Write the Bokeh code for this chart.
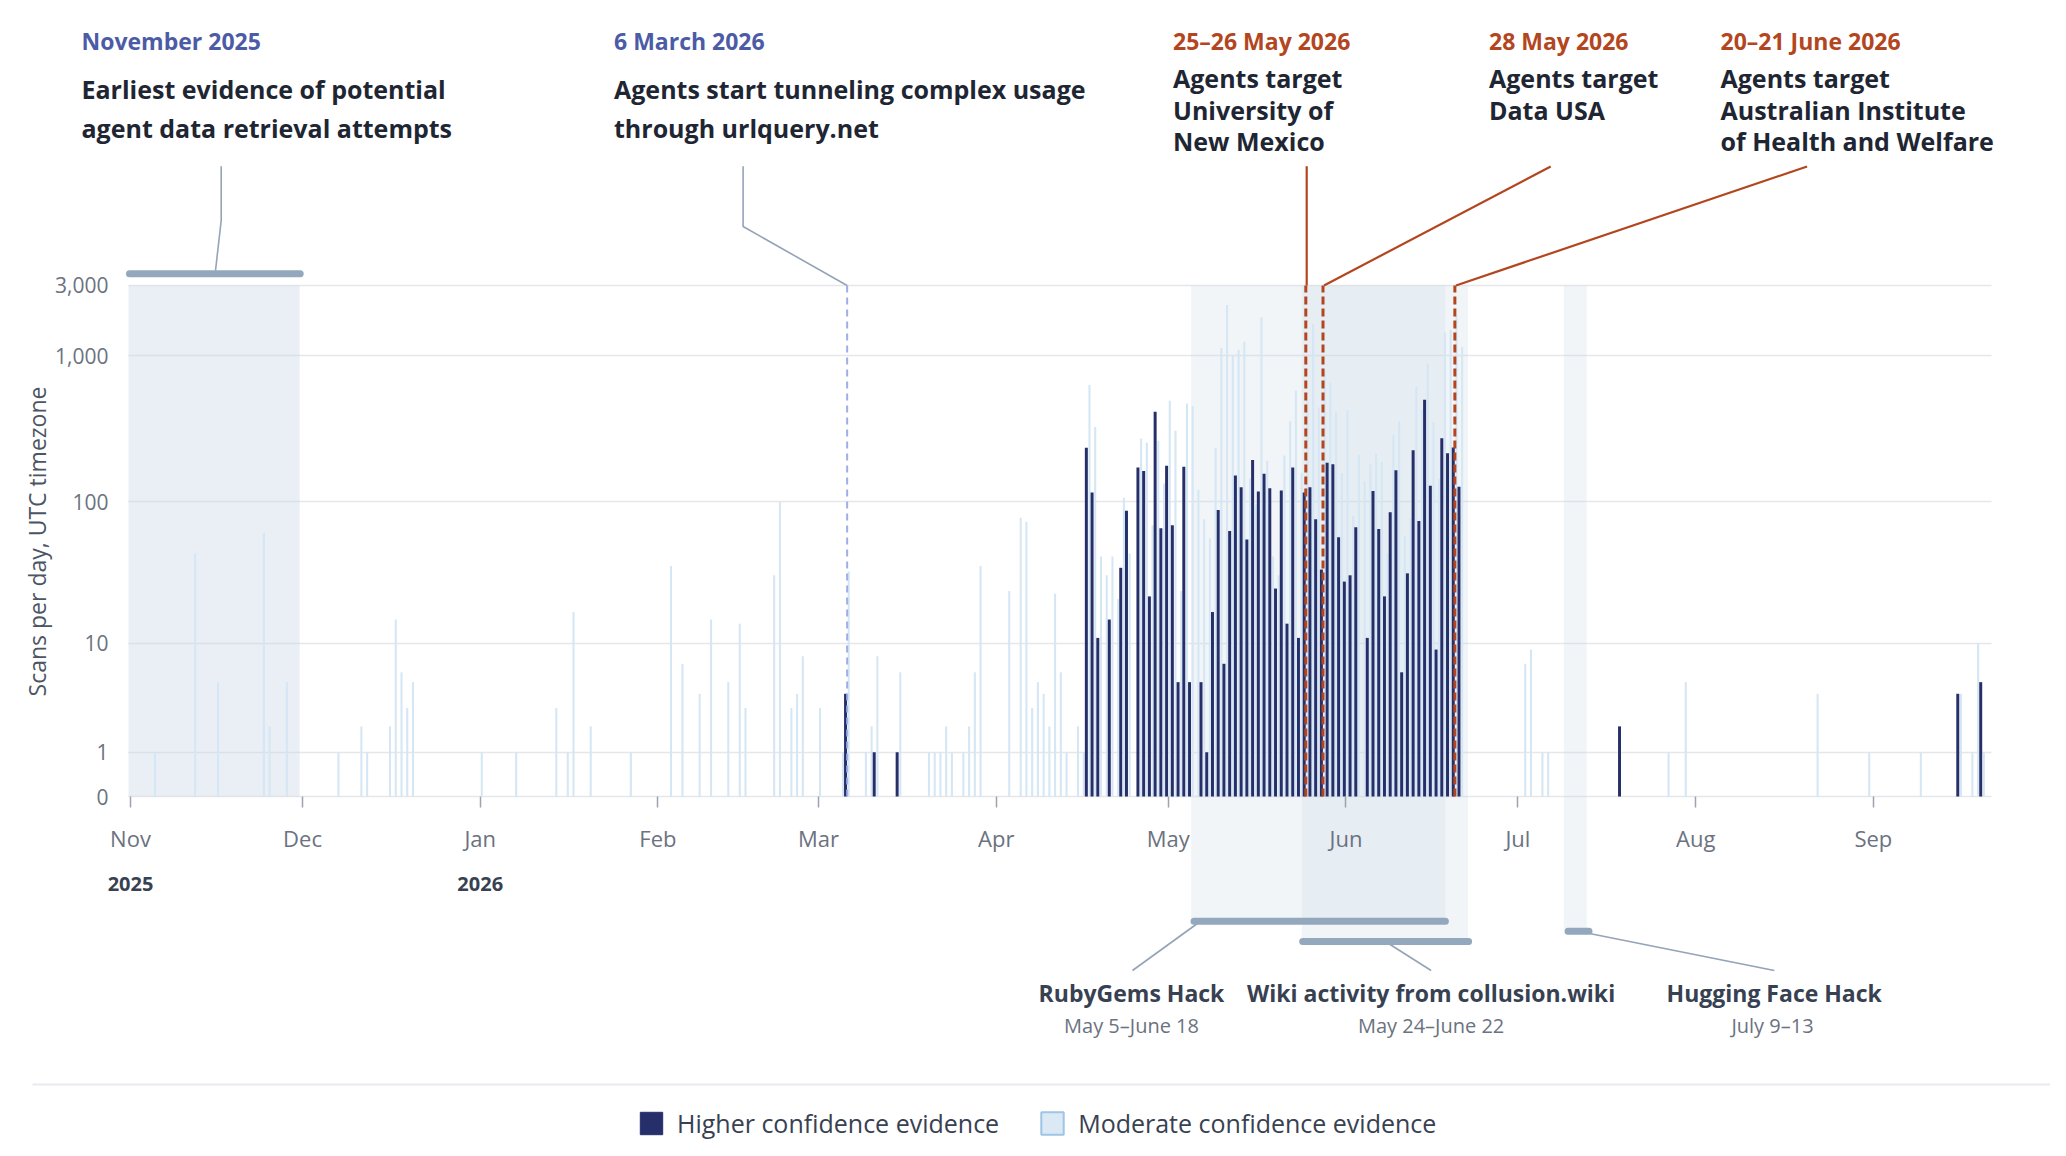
import numpy as np
import pandas as pd
from bokeh.plotting import figure
from bokeh.models import (Range1d, FixedTicker, DatetimeTickFormatter, DatetimeAxis, Grid,
                          BoxAnnotation, Label, Legend, LegendItem, ColumnDataSource)
from bokeh.embed import file_html
from bokeh.resources import INLINE

# ---------------- data ----------------
light_dates = [
    "2025-11-05", "2025-11-12", "2025-11-16", "2025-11-24", "2025-11-25", "2025-11-28",
    "2025-12-07", "2025-12-11", "2025-12-12", "2025-12-16", "2025-12-17", "2025-12-18",
    "2025-12-19", "2025-12-20",
    "2026-01-01", "2026-01-07", "2026-01-14", "2026-01-16", "2026-01-17", "2026-01-20",
    "2026-01-27",
    "2026-02-03", "2026-02-05", "2026-02-08", "2026-02-10", "2026-02-13", "2026-02-15",
    "2026-02-16", "2026-02-21", "2026-02-22", "2026-02-24", "2026-02-25", "2026-02-26",
    "2026-03-01", "2026-03-05", "2026-03-06", "2026-03-09", "2026-03-10", "2026-03-11",
    "2026-03-15", "2026-03-20", "2026-03-21", "2026-03-22", "2026-03-23", "2026-03-24",
    "2026-03-26", "2026-03-27", "2026-03-28", "2026-03-29",
    "2026-04-03", "2026-04-05", "2026-04-06", "2026-04-07", "2026-04-08", "2026-04-09",
    "2026-04-10", "2026-04-11", "2026-04-12", "2026-04-13", "2026-04-15", "2026-04-16",
    "2026-04-17", "2026-04-18", "2026-04-19", "2026-04-20", "2026-04-21", "2026-04-22",
    "2026-04-23", "2026-04-24", "2026-04-26", "2026-04-27", "2026-04-28", "2026-04-29",
    "2026-04-30",
    "2026-05-01", "2026-05-02", "2026-05-03", "2026-05-04", "2026-05-05", "2026-05-06",
    "2026-05-07", "2026-05-08", "2026-05-09", "2026-05-10", "2026-05-11", "2026-05-12",
    "2026-05-13", "2026-05-14", "2026-05-15", "2026-05-16", "2026-05-17", "2026-05-18",
    "2026-05-19", "2026-05-20", "2026-05-21", "2026-05-22", "2026-05-23", "2026-05-24",
    "2026-05-25", "2026-05-26", "2026-05-27", "2026-05-28", "2026-05-29", "2026-05-30",
    "2026-05-31",
    "2026-06-01", "2026-06-02", "2026-06-03", "2026-06-04", "2026-06-05", "2026-06-06",
    "2026-06-07", "2026-06-08", "2026-06-09", "2026-06-10", "2026-06-11", "2026-06-12",
    "2026-06-13", "2026-06-14", "2026-06-15", "2026-06-16", "2026-06-17", "2026-06-18",
    "2026-06-19", "2026-06-20", "2026-06-21",
    "2026-07-02", "2026-07-03", "2026-07-05", "2026-07-06", "2026-07-27", "2026-07-30",
    "2026-08-22", "2026-08-31",
    "2026-09-09", "2026-09-16", "2026-09-18", "2026-09-19", "2026-09-20",
]
light_values = [
    1, 44, 5, 61, 2, 5,
    1, 2, 1, 2, 15, 6,
    3, 5,
    1, 1, 3, 1, 17, 2,
    1,
    36, 7, 4, 15, 5, 14,
    3, 31, 100, 3, 4, 8,
    3, 1, 33, 1, 2, 8,
    6, 1, 1, 1, 2, 1,
    1, 2, 6, 36,
    24, 78, 73, 3, 5, 4,
    2, 23, 6, 1, 2, 1,
    630, 326, 42, 31, 42, 21,
    107, 44, 271, 254, 69, 263,
    134,
    492, 307, 24, 471, 454, 121,
    76, 56, 234, 1124, 2208, 993,
    1095, 1241, 145, 96, 1827, 192,
    42, 31, 208, 356, 578, 158,
    487, 1641, 442, 792, 655, 414,
    158,
    425, 80, 210, 138, 181, 214,
    188, 44, 288, 356, 58, 77,
    614, 425, 882, 351, 145, 1435,
    1498, 1858, 1143,
    7, 9, 1, 1, 1, 5,
    4, 1,
    1, 4, 1, 10, 1,
]

dark_dates = [
    "2026-03-05", "2026-03-10", "2026-03-14",
    "2026-04-16", "2026-04-17", "2026-04-18", "2026-04-20", "2026-04-22", "2026-04-23",
    "2026-04-25", "2026-04-26", "2026-04-27", "2026-04-28", "2026-04-29", "2026-04-30",
    "2026-05-01", "2026-05-02", "2026-05-03", "2026-05-04", "2026-05-06", "2026-05-07",
    "2026-05-08", "2026-05-09", "2026-05-10", "2026-05-11", "2026-05-12", "2026-05-13",
    "2026-05-14", "2026-05-15", "2026-05-16", "2026-05-17", "2026-05-18", "2026-05-19",
    "2026-05-20", "2026-05-21", "2026-05-22", "2026-05-23", "2026-05-24", "2026-05-25",
    "2026-05-26", "2026-05-27", "2026-05-28", "2026-05-29", "2026-05-30", "2026-05-31",
    "2026-06-01", "2026-06-02", "2026-06-04", "2026-06-05", "2026-06-06", "2026-06-07",
    "2026-06-08", "2026-06-09", "2026-06-10", "2026-06-11", "2026-06-12", "2026-06-13",
    "2026-06-14", "2026-06-15", "2026-06-16", "2026-06-17", "2026-06-18", "2026-06-19",
    "2026-06-20",
    "2026-07-18", "2026-09-15", "2026-09-19",
]
dark_values = [
    4, 1, 1,
    235, 116, 11, 15, 35, 87,
    172, 163, 22, 414, 66, 177,
    69, 5, 174, 5, 5, 1,
    17, 88, 7, 63, 152, 126,
    55, 194, 118, 156, 124, 25,
    120, 14, 172, 11, 116, 126,
    76, 34, 186, 181, 57, 28,
    31, 67, 11, 119, 65, 22,
    85, 165, 6, 32, 226, 74,
    500, 129, 9, 273, 216, 236,
    127,
    2, 4, 5,
]

y_tick_values = [0, 1, 10, 100, 1000, 3000]
y_tick_labels = ["0", "1", "10", "100", "1,000", "3,000"]
month_ticks = ["2025-11-01", "2025-12-01", "2026-01-01", "2026-02-01", "2026-03-01",
               "2026-04-01", "2026-05-01", "2026-06-01", "2026-07-01", "2026-08-01",
               "2026-09-01"]
year_ticks = ["2025-11-01", "2026-01-01"]
event_dates_blue = ["2026-03-06"]
event_dates_orange = ["2026-05-25", "2026-05-28", "2026-06-20"]

# ---------------- helpers ----------------
DAY = 86400000.0
EPOCH = pd.Timestamp("1970-01-01")


def ms(d, off=0.0):
    return (pd.Timestamp(d) - EPOCH).total_seconds() * 1000.0 + off * DAY


ORIGIN = ms("2025-11-01")
PX_DAY = 5.7332
PX_UNIT = 146.955
W, H = 2050, 1140


def X(px):  # picture pixel -> data x
    return ORIGIN + (px - 130.0) / PX_DAY * DAY


def Y(py):  # picture pixel -> data y
    return (796.0 - py) / PX_UNIT


def ylog(v):
    return float(np.log10(1.0 + v))


FONT = "Open Sans"
DARK = "#262f69"
LIGHT = "#d5e6f4"
GREYLINE = "#94a3b8"
ORANGE = "#b3461e"
BLUEHEAD = "#4c5ba6"
TEXT = "#1f2633"
YTOP = ylog(3000)
XL, XR = X(128), X(1991)

# frame covers the whole canvas; the plot area is the data window [XL, XR] x [0, YTOP]
p = figure(width=W, height=H, x_axis_type="datetime",
           x_range=Range1d(X(0), X(W)), y_range=Range1d(Y(H), Y(0)),
           output_backend="svg", toolbar_location=None, min_border=0)
p.title.visible = False
p.background_fill_color = "white"
p.border_fill_color = "white"
p.outline_line_color = None
p.xgrid.visible = False

# y axis
ytick_pos = [ylog(v) for v in y_tick_values]
yax = p.yaxis[0]
yax.fixed_location = XL
yax.bounds = (0, YTOP)
yax.ticker = FixedTicker(ticks=ytick_pos)
yax.major_label_overrides = {float(k): lab for k, lab in zip(ytick_pos, y_tick_labels)}
yax.axis_line_color = None
yax.major_tick_line_color = None
yax.minor_tick_line_color = None
yax.major_label_standoff = 14
yax.major_label_text_font = FONT
yax.major_label_text_font_size = "21px"
yax.major_label_text_color = "#6b7280"

# grid limited to the plot area
grid_ok = "cross_bounds" in Grid.properties()
if grid_ok:
    p.ygrid.cross_bounds = (XL, XR)
    p.ygrid.grid_line_color = "#e5e7eb"
    p.ygrid.grid_line_width = 1.6
else:
    p.ygrid.visible = False
    p.segment(x0=[XL] * len(ytick_pos), x1=[XR] * len(ytick_pos), y0=ytick_pos, y1=ytick_pos,
              line_color="#e5e7eb", line_width=1.6)

# x axis (months)
xax = p.xaxis[0]
xax.fixed_location = 0
xax.bounds = (XL, XR)
xax.ticker = FixedTicker(ticks=[ms(d) for d in month_ticks])
xax.formatter = DatetimeTickFormatter(days="%b", months="%b", years="%b")
xax.axis_line_color = None
xax.minor_tick_line_color = None
xax.major_tick_line_color = "#9ca3af"
xax.major_tick_line_width = 1.5
xax.major_tick_out = 11
xax.major_tick_in = 0
xax.major_label_standoff = 15
xax.major_label_text_font = FONT
xax.major_label_text_font_size = "22px"
xax.major_label_text_color = "#6b7280"

# second x axis (years)
yrax = DatetimeAxis(ticker=FixedTicker(ticks=[ms(d) for d in year_ticks]),
                    formatter=DatetimeTickFormatter(days="%Y", months="%Y", years="%Y"),
                    fixed_location=0)
yrax.axis_line_color = None
yrax.major_tick_line_color = None
yrax.minor_tick_line_color = None
yrax.major_tick_out = 0
yrax.major_tick_in = 0
yrax.major_label_standoff = 80
yrax.major_label_text_font = FONT
yrax.major_label_text_font_size = "20px"
yrax.major_label_text_font_style = "bold"
yrax.major_label_text_color = "#374151"
p.add_layout(yrax, "below")

# ---------------- shaded periods ----------------
BAND = "#c8d6e5"
p.add_layout(BoxAnnotation(left=XL, right=ms("2025-11-30", 0.5), bottom=0, top=YTOP,
                           fill_color=BAND, fill_alpha=0.40, line_color=None, level="underlay"))
p.add_layout(BoxAnnotation(left=ms("2026-05-05"), right=ms("2026-06-18", 0.3), bottom=Y(918),
                           top=YTOP, fill_color=BAND, fill_alpha=0.25, line_color=None,
                           level="underlay"))
p.add_layout(BoxAnnotation(left=ms("2026-05-24", 0.3), right=ms("2026-06-22", 0.3), bottom=Y(938),
                           top=YTOP, fill_color=BAND, fill_alpha=0.25, line_color=None,
                           level="underlay"))
p.add_layout(BoxAnnotation(left=ms("2026-07-09"), right=ms("2026-07-13"), bottom=Y(928),
                           top=YTOP, fill_color=BAND, fill_alpha=0.25, line_color=None,
                           level="underlay"))

# ---------------- bars ----------------
light_src = ColumnDataSource(dict(x=[ms(d, 0.27) for d in light_dates],
                                  top=[ylog(v) for v in light_values], scans=light_values))
dark_src = ColumnDataSource(dict(x=[ms(d, 0.72) for d in dark_dates],
                                 top=[ylog(v) for v in dark_values], scans=dark_values))
p.vbar(x="x", top="top", bottom=0, width=0.36 * DAY, source=light_src,
       fill_color=LIGHT, line_color=None)
p.vbar(x="x", top="top", bottom=0, width=0.52 * DAY, source=dark_src,
       fill_color=DARK, line_color=None)

# legend-only renderers (a single NaN row: nothing is drawn in the plot)
leg_dark = p.vbar(x="x", top="top", width=1,
                  source=ColumnDataSource(dict(x=[np.nan], top=[np.nan])),
                  fill_color=DARK, line_color=DARK)
leg_light = p.vbar(x="x", top="top", width=1,
                   source=ColumnDataSource(dict(x=[np.nan], top=[np.nan])),
                   fill_color="#dbe9f5", line_color="#9fc5e5", line_width=2)

# ---------------- event lines ----------------
for d in event_dates_blue:
    p.segment(x0=[ms(d)], y0=[0], x1=[ms(d)], y1=[YTOP], line_color="#9eaee6",
              line_width=2, line_dash="7 5")
for d in event_dates_orange:
    p.segment(x0=[ms(d)], y0=[0], x1=[ms(d)], y1=[YTOP], line_color=ORANGE,
              line_width=3, line_dash="8 4")


def leader(pts, color, width):
    p.line(x=[X(a) for a, b in pts], y=[Y(b) for a, b in pts], line_color=color,
           line_width=width)


leader([(220.7, 165.7), (220.7, 220), (215, 270)], GREYLINE, 1.6)
leader([(742.6, 165.7), (742.6, 226), (846.6, 285)], GREYLINE, 1.6)
leader([(1306.2, 165.7), (1306.2, 285)], ORANGE, 2.2)
leader([(1550.2, 166), (1323.5, 285)], ORANGE, 2.2)
leader([(1806.6, 166), (1455.5, 285)], ORANGE, 2.2)
leader([(1196.9, 923), (1132, 970)], GREYLINE, 1.6)
leader([(1388, 943), (1430.6, 970)], GREYLINE, 1.6)
leader([(1589, 933), (1773.8, 970)], GREYLINE, 1.6)

# rounded period bars
BARC = "#94a8bd"


def pbar(x0, x1, yc):
    p.add_layout(BoxAnnotation(left=X(x0), right=X(x1), top=Y(yc - 3.5), bottom=Y(yc + 3.5),
                               fill_color=BARC, fill_alpha=1, line_color=None,
                               border_radius=4))


pbar(125.5, 303.2, 273.3)
pbar(1190, 1448.4, 920.7)
pbar(1298.7, 1471.6, 941)
pbar(1564, 1592, 930.7)

# separator
p.add_layout(BoxAnnotation(left=X(32), right=X(2050), top=Y(1083), bottom=Y(1085),
                           fill_color="#e9eaef", fill_alpha=1, line_color=None))


# ---------------- texts ----------------
def lab(px, py, text, size, color, style="bold", align="left", angle=0.0):
    p.add_layout(Label(x=X(px), y=Y(py), text=text, text_font=FONT,
                       text_font_size=f"{size}px", text_font_style=style,
                       text_color=color, text_align=align, text_baseline="middle",
                       angle=angle))


# y axis title
lab(36.5, 541, "Scans per day, UTC timezone", 23, "#4b5563", style="normal",
    align="center", angle=np.pi / 2)

lab(81, 40.2, "November 2025", 23, BLUEHEAD)
lab(81, 88.5, "Earliest evidence of potential", 25, TEXT)
lab(81, 127.5, "agent data retrieval attempts", 25, TEXT)
lab(613.5, 40.2, "6 March 2026", 23, BLUEHEAD)
lab(613.5, 88.5, "Agents start tunneling complex usage", 25, TEXT)
lab(613.5, 127.5, "through urlquery.net", 25, TEXT)
lab(1172.5, 40.7, "25–26 May 2026", 23, ORANGE)
lab(1172.5, 77.5, "Agents target", 25, TEXT)
lab(1172.5, 109.5, "University of", 25, TEXT)
lab(1172.5, 140.5, "New Mexico", 25, TEXT)
lab(1488.5, 40.7, "28 May 2026", 23, ORANGE)
lab(1488.5, 77.5, "Agents target", 25, TEXT)
lab(1488.5, 109.5, "Data USA", 25, TEXT)
lab(1720, 40.7, "20–21 June 2026", 23, ORANGE)
lab(1720, 77.5, "Agents target", 25, TEXT)
lab(1720, 109.5, "Australian Institute", 25, TEXT)
lab(1720, 140.5, "of Health and Welfare", 25, TEXT)

lab(1131, 992.7, "RubyGems Hack", 23, "#374151", align="center")
lab(1131, 1025.3, "May 5–June 18", 20, "#6b7280", style="normal", align="center")
lab(1430.6, 992.7, "Wiki activity from collusion.wiki", 23, "#374151", align="center")
lab(1430.6, 1025.3, "May 24–June 22", 20, "#6b7280", style="normal", align="center")
lab(1773.7, 992.7, "Hugging Face Hack", 23, "#374151", align="center")
lab(1772, 1025.3, "July 9–13", 20, "#6b7280", style="normal", align="center")

# ---------------- legend ----------------
legend = Legend(items=[LegendItem(label="Higher confidence evidence", renderers=[leg_dark]),
                       LegendItem(label="Moderate confidence evidence", renderers=[leg_light])],
                orientation="horizontal", location=(637, 0), glyph_width=28,
                glyph_height=28, label_standoff=12, spacing=39, padding=0, margin=0,
                border_line_color=None, background_fill_alpha=0,
                label_text_font=FONT, label_text_font_size="25px",
                label_text_color="#374151")
p.add_layout(legend)

open("out.html", "w").write(file_html(p, INLINE))
